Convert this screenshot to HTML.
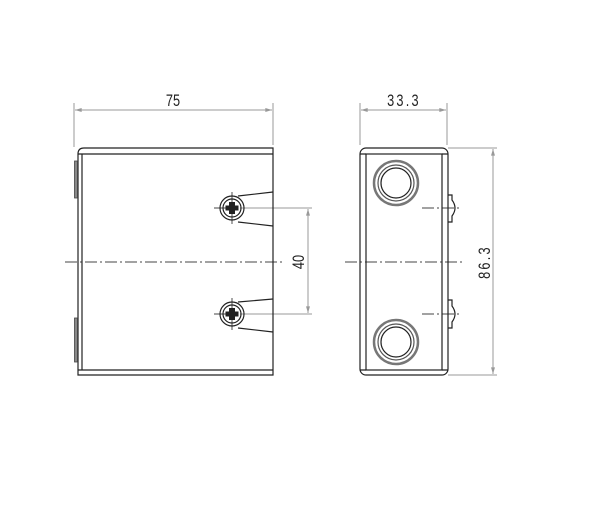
<!DOCTYPE html>
<html><head><style>body{margin:0;background:#fff}svg{display:block}</style></head><body>
<svg width="600" height="530" viewBox="0 0 600 530" xmlns="http://www.w3.org/2000/svg">
<defs>
<marker id="a" viewBox="0 0 10 6" refX="10" refY="3" markerWidth="8" markerHeight="4" orient="auto-start-reverse"><path d="M0,0 L10,3 L0,6z" fill="#999"/></marker>
</defs>
<g fill="none" stroke="#999" stroke-width="1">
<line x1="74" y1="103" x2="74" y2="147"/><line x1="273" y1="103" x2="273" y2="145"/>
<line x1="75" y1="110" x2="272" y2="110" marker-start="url(#a)" marker-end="url(#a)"/>
<line x1="360" y1="103" x2="360" y2="145"/><line x1="447" y1="103" x2="447" y2="145"/>
<line x1="361" y1="110" x2="446" y2="110" marker-start="url(#a)" marker-end="url(#a)"/>
<line x1="240" y1="208" x2="312" y2="208"/><line x1="240" y1="314" x2="312" y2="314"/>
<line x1="308" y1="209" x2="308" y2="313" marker-start="url(#a)" marker-end="url(#a)"/>
<line x1="448" y1="148" x2="497" y2="148"/><line x1="448" y1="375" x2="497" y2="375"/>
<line x1="493" y1="149" x2="493" y2="374" marker-start="url(#a)" marker-end="url(#a)"/>
</g>
<g stroke="#444" stroke-width="1" stroke-dasharray="12,3,2,3" fill="none">
<line x1="65" y1="262" x2="282" y2="262"/>
<line x1="345" y1="262" x2="465" y2="262"/>
<line x1="422" y1="208" x2="462" y2="208"/>
<line x1="422" y1="314" x2="462" y2="314"/>
<line x1="214" y1="208" x2="230" y2="208"/><line x1="214" y1="314" x2="230" y2="314"/>
</g>
<g fill="none" stroke="#222" stroke-width="1.2">
<path d="M78,375 L78,154 Q78,148 84,148 L273,148 L273,375 Z"/>
<line x1="78" y1="154" x2="273" y2="154"/>
<line x1="78" y1="370" x2="273" y2="370"/>
<line x1="82" y1="154" x2="82" y2="370"/>
<rect x="74.5" y="161" width="3" height="37" fill="#888" stroke="#444" stroke-width="0.8"/>
<rect x="74.5" y="318" width="3" height="44" fill="#888" stroke="#444" stroke-width="0.8"/>
<path d="M238,196 L273,192 M238,222 L273,226"/>
<path d="M238,302 L273,299 M238,328 L273,332"/>
<circle cx="232" cy="208" r="12"/><circle cx="232" cy="208" r="9"/>
<circle cx="232" cy="314" r="12"/><circle cx="232" cy="314" r="9"/>
<line x1="232" y1="192" x2="232" y2="224" stroke-width="0.8"/>
<line x1="232" y1="298" x2="232" y2="330" stroke-width="0.8"/>
<rect x="360" y="148" width="88" height="227" rx="6"/>
<rect x="366" y="154" width="76" height="216"/>
<path d="M360,154 L366,154 M442,154 L448,154 M360,370 L366,370 M442,370 L448,370"/>
<circle cx="396" cy="183" r="22" stroke-width="2.5" stroke="#777"/><circle cx="396" cy="183" r="18" stroke="#555"/><circle cx="396" cy="183" r="15"/>
<circle cx="396" cy="342" r="22" stroke-width="2.5" stroke="#777"/><circle cx="396" cy="342" r="18" stroke="#555"/><circle cx="396" cy="342" r="15"/>
<path d="M448,195 L452,195 L452,200 Q458,208 452,216 L452,222 L448,222"/>
<path d="M448,300 L452,300 L452,306 Q458,314 452,322 L452,328 L448,328"/>
</g>
<g fill="#222">
<path d="M229,202h6v3.5h3.5v5h-3.5v3.5h-6v-3.5h-3.5v-5h3.5z"/>
<path d="M229,308h6v3.5h3.5v5h-3.5v3.5h-6v-3.5h-3.5v-5h3.5z"/>
</g>
<g font-family="Liberation Sans, sans-serif" font-size="17" fill="#222" text-anchor="middle">
<text x="173" y="106" transform="translate(173,0) scale(0.75,1) translate(-173,0)">75</text>
<text x="404" y="106" letter-spacing="3" transform="translate(404,0) scale(0.75,1) translate(-404,0)">33.3</text>
<text transform="translate(304,262) rotate(-90) scale(0.75,1)" x="0" y="0">40</text>
<text transform="translate(490,262) rotate(-90) scale(0.75,1)" x="0" y="0" letter-spacing="3">86.3</text>
</g>
</svg>
</body></html>
